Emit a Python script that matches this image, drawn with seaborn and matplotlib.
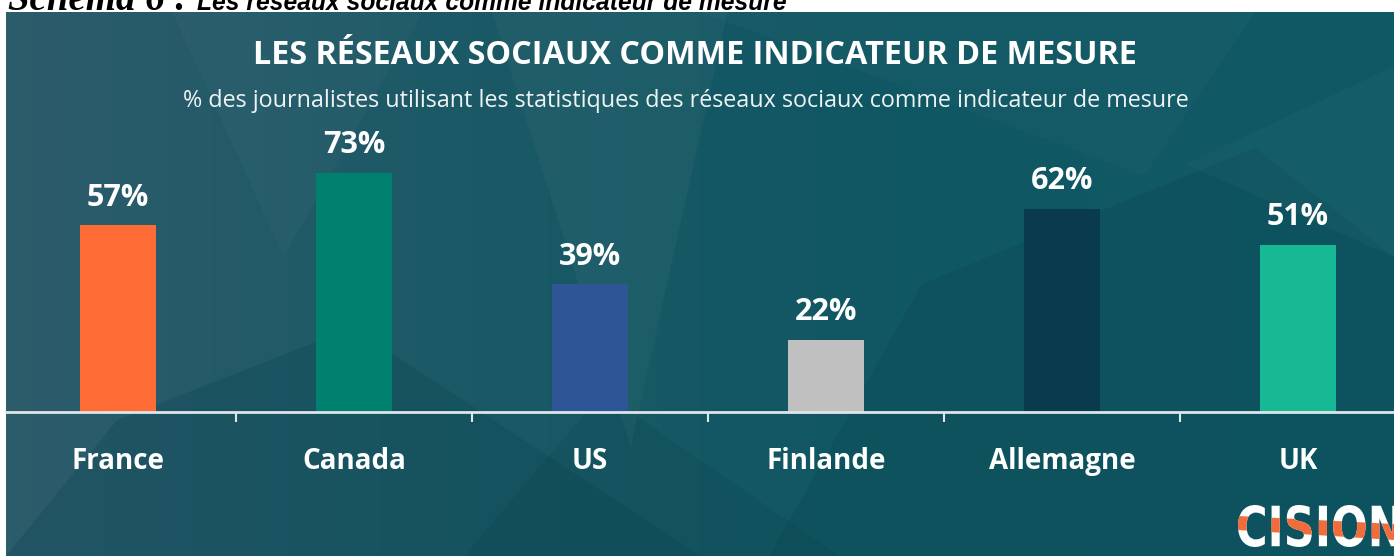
import numpy as np
import pandas as pd
import matplotlib.pyplot as plt
import seaborn as sns
from matplotlib.colors import LinearSegmentedColormap
from matplotlib.patches import Polygon, PathPatch
from matplotlib.textpath import TextPath
from matplotlib.font_manager import FontProperties
from matplotlib.transforms import Affine2D

pays = ['France', 'Canada', 'US', 'Finlande', 'Allemagne', 'UK']
valeurs = [57, 73, 39, 22, 62, 51]
couleurs = ['#ff6b35', '#00806f', '#2e5596', '#c0c0c0', '#093a4d', '#17b894']
titre = 'LES RÉSEAUX SOCIAUX COMME INDICATEUR DE MESURE'
sous_titre = '% des journalistes utilisant les statistiques des réseaux sociaux comme indicateur de mesure'
legende = 'Schéma 6 :'
legende_suite = 'Les réseaux sociaux comme indicateur de mesure'

df = pd.DataFrame({'pays': pays, 'valeur': valeurs})

sns.set(style='ticks', rc={'figure.facecolor': 'white'})
plt.rcParams['font.family'] = ['Open Sans', 'DejaVu Sans']

fig = plt.figure(figsize=(13.94, 5.56), dpi=100)
W, H = 1394, 556
rect = [6 / W, 0, 1 - 6 / W, 1 - 12 / H]

# fond du panneau : dégradé + quelques facettes
bg = fig.add_axes(rect, zorder=0)
cmap = LinearSegmentedColormap.from_list('fond', ['#2d5c6b', '#1b5966', '#0f5763', '#105a66'])
grad = np.linspace(0, 1, 256).reshape(1, -1)
bg.imshow(grad, cmap=cmap, aspect='auto', extent=[0, 1, 0, 1])
facettes = [
    ([(0, 0), (0.08, 0.25), (0.25, 0.42), (0.5, 0)], '#0a4652', 0.3),
    ([(0.33, 0), (0.43, 0.3), (0.6, 0)], '#083f4a', 0.2),
    ([(0.35, 1), (0.45, 0.2), (0.52, 1)], '#ffffff', 0.03),
    ([(0.5, 1), (0.82, 0.7), (0.9, 1)], '#ffffff', 0.025),
    ([(0.55, 0.0), (0.66, 0.5), (0.9, 0.75), (1, 0.55), (1, 0)], '#053e49', 0.2),
    ([(0.85, 0.72), (1, 0.55), (1, 0.9)], '#ffffff', 0.025),
    ([(0.12, 1), (0.2, 0.55), (0.3, 1)], '#ffffff', 0.025),
]
for pts, c, a in facettes:
    bg.add_patch(Polygon(pts, closed=True, facecolor=c, alpha=a, edgecolor='none'))
bg.set_xlim(0, 1)
bg.set_ylim(0, 1)
bg.axis('off')

# graphique
ax = fig.add_axes(rect, zorder=1)
ax.patch.set_alpha(0)
sns.barplot(data=df, x='pays', y='valeur', hue='pays', palette=couleurs,
            width=0.32, saturation=1, legend=False, linewidth=0, edgecolor='none', ax=ax)

for cont in ax.containers:
    ax.bar_label(cont, labels=[f'{int(b.get_height())}%' for b in cont], padding=9,
                 color='white', fontsize=22, fontweight='bold')

ax.set_xlim((6 - 118) / 236, (1394 - 118) / 236)
ax.set_ylim(-144 / 3.28, (544 - 144) / 3.28)
ax.set_xlabel('')
ax.set_ylabel('')
ax.set_yticks([])
for s in ['left', 'top', 'right']:
    ax.spines[s].set_visible(False)
ax.spines['bottom'].set_position(('data', 0))
ax.spines['bottom'].set_color('#dfe5e8')
ax.spines['bottom'].set_linewidth(2)
ax.tick_params(axis='x', which='major', length=0, pad=25, labelsize=20, labelcolor='white')
for t in ax.get_xticklabels():
    t.set_fontweight('bold')
ax.set_xticks(np.arange(0.5, len(pays) - 1, 1), minor=True)
ax.tick_params(axis='x', which='minor', length=7, width=1.5, color='#dfe5e8', direction='out')

# textes
fig.text(695 / W, 1 - 55 / H, titre, ha='center', va='center', color='white',
         fontsize=23.3, fontweight='bold')
fig.text(686 / W, 1 - 101 / H, sous_titre, ha='center', va='center', color='#eef3f4',
         fontsize=16.8)
fig.text(8 / W, 1 - 10 / H, legende, ha='left', va='baseline', color='black', fontsize=28,
         family='Liberation Serif', style='italic', fontweight='bold')
fig.text(197 / W, 1 - 10 / H, legende_suite, ha='left', va='baseline', color='black',
         fontsize=17.7, family='Liberation Sans', style='italic', fontweight='bold')

# logo CISION (lettres étroites, bande orange)
tp = TextPath((0, 0), 'CISION', size=50, prop=FontProperties(family='DejaVu Sans', weight='bold'))
ext = tp.get_extents()
sx = 162 / ext.width
sy = 42 / ext.height
tr = (Affine2D().translate(-ext.x0, -ext.y0).scale(sx, sy)
      .translate(1238, 556 - 547).scale(1 / W, 1 / H) + fig.transFigure)
fig.patches.append(PathPatch(tp, transform=tr, facecolor='white', edgecolor='none'))
orange = PathPatch(tp, transform=tr, facecolor='#f26b3a', edgecolor='none')
bande = Polygon([(1238 / W, 1 - 516 / H), (1394 / W, 1 - 524 / H), (1394 / W, 1 - 540 / H),
                 (1238 / W, 1 - 530 / H)], closed=True, transform=fig.transFigure)
orange.set_clip_path(bande)
fig.patches.append(orange)

fig.savefig('out.png', dpi=100)
